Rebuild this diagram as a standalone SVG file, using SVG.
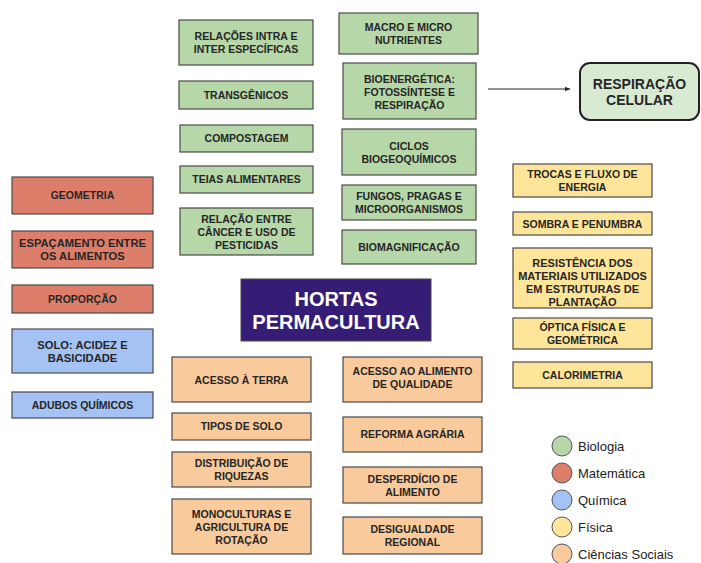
<svg xmlns="http://www.w3.org/2000/svg" width="701" height="563" viewBox="0 0 701 563">
<defs>
<style>
.b{stroke:#4a4a4a;stroke-width:1.2}
.g{fill:#b6d7a8}.r{fill:#dd7e6b}.q{fill:#a4c2f4}.y{fill:#ffe599}.o{fill:#f9cb9c}
.t{font-family:"Liberation Sans",Arial,sans-serif;font-weight:bold;font-size:10.5px;fill:#262626;text-anchor:middle}
.lg{font-family:"Liberation Sans",Arial,sans-serif;font-size:13px;fill:#222}
</style>
<marker id="ah" markerWidth="6" markerHeight="6" refX="5" refY="3" orient="auto" markerUnits="userSpaceOnUse">
<path d="M0,0.8 L5,3 L0,5.2 z" fill="#222"/>
</marker>
</defs>
<rect width="701" height="563" fill="#ffffff"/>

<g id="connectors">
<line x1="488" y1="89" x2="570" y2="89" stroke="#222" stroke-width="1" marker-end="url(#ah)"/>
</g>

<g id="n-relacoes"><rect class="b g" x="179" y="20" width="134" height="45"/><text class="t"><tspan x="246" y="39.8">RELAÇÕES INTRA E</tspan><tspan x="246" y="52.8">INTER ESPECÍFICAS</tspan></text></g>
<g id="n-transgenicos"><rect class="b g" x="179" y="81" width="134" height="28"/><text class="t" x="246" y="98.8">TRANSGÊNICOS</text></g>
<g id="n-compostagem"><rect class="b g" x="180" y="125" width="133" height="27"/><text class="t" x="246.5" y="142">COMPOSTAGEM</text></g>
<g id="n-teias"><rect class="b g" x="180" y="166" width="133" height="27"/><text class="t" x="246.5" y="183.3">TEIAS ALIMENTARES</text></g>
<g id="n-cancer"><rect class="b g" x="180" y="208" width="133" height="47"/><text class="t"><tspan x="246.5" y="223.3">RELAÇÃO ENTRE</tspan><tspan x="246.5" y="236.3">CÂNCER E USO DE</tspan><tspan x="246.5" y="249.3">PESTICIDAS</tspan></text></g>
<g id="n-macro"><rect class="b g" x="339" y="13" width="139" height="41"/><text class="t"><tspan x="408.5" y="30.8">MACRO E MICRO</tspan><tspan x="408.5" y="43.8">NUTRIENTES</tspan></text></g>
<g id="n-bioenergetica"><rect class="b g" x="343" y="63" width="133" height="56"/><text class="t"><tspan x="409.5" y="83.3">BIOENERGÉTICA:</tspan><tspan x="409.5" y="96.3">FOTOSSÍNTESE E</tspan><tspan x="409.5" y="109.3">RESPIRAÇÃO</tspan></text></g>
<g id="n-ciclos"><rect class="b g" x="342" y="129" width="134" height="46"/><text class="t"><tspan x="409" y="149.5">CICLOS</tspan><tspan x="409" y="162.5">BIOGEOQUÍMICOS</tspan></text></g>
<g id="n-fungos"><rect class="b g" x="342" y="185" width="134" height="35"/><text class="t"><tspan x="409" y="200.3">FUNGOS, PRAGAS E</tspan><tspan x="409" y="213.3">MICROORGANISMOS</tspan></text></g>
<g id="n-biomagnificacao"><rect class="b g" x="342" y="230" width="134" height="34"/><text class="t" x="409" y="250.8">BIOMAGNIFICAÇÃO</text></g>

<g id="n-respiracao"><rect x="580" y="63" width="119" height="57" rx="10" ry="10" fill="#d9ead3" stroke="#222" stroke-width="2"/><text class="t" style="font-size:14px"><tspan x="639.5" y="89">RESPIRAÇÃO</tspan><tspan x="639.5" y="105">CELULAR</tspan></text></g>

<g id="n-geometria"><rect class="b r" x="12" y="177" width="141" height="37"/><text class="t" x="82.5" y="199.3">GEOMETRIA</text></g>
<g id="n-espacamento"><rect class="b r" x="12" y="231" width="141" height="37"/><text class="t" style="font-size:11.2px"><tspan x="82.5" y="247">ESPAÇAMENTO ENTRE</tspan><tspan x="82.5" y="260">OS ALIMENTOS</tspan></text></g>
<g id="n-proporcao"><rect class="b r" x="12" y="285" width="141" height="28"/><text class="t" x="82.5" y="302.8">PROPORÇÃO</text></g>
<g id="n-solo"><rect class="b q" x="12" y="329" width="141" height="44"/><text class="t" style="font-size:11.2px"><tspan x="82.5" y="348.5">SOLO: ACIDEZ E</tspan><tspan x="82.5" y="361.5">BASICIDADE</tspan></text></g>
<g id="n-adubos"><rect class="b q" x="12" y="392" width="141" height="26"/><text class="t" x="82.5" y="408.8">ADUBOS QUÍMICOS</text></g>

<g id="n-trocas"><rect class="b y" x="513" y="164" width="139" height="33"/><text class="t"><tspan x="582.5" y="177.8">TROCAS E FLUXO DE</tspan><tspan x="582.5" y="190.8">ENERGIA</tspan></text></g>
<g id="n-sombra"><rect class="b y" x="513" y="212" width="139" height="23"/><text class="t" x="582.5" y="227.5">SOMBRA E PENUMBRA</text></g>
<g id="n-resistencia"><rect class="b y" x="513" y="248" width="139" height="60"/><text class="t" style="font-size:11px"><tspan x="582.5" y="266.5">RESISTÊNCIA DOS</tspan><tspan x="582.5" y="279.5">MATERIAIS UTILIZADOS</tspan><tspan x="582.5" y="292.5">EM ESTRUTURAS DE</tspan><tspan x="582.5" y="305.5">PLANTAÇÃO</tspan></text></g>
<g id="n-optica"><rect class="b y" x="513" y="318" width="139" height="31"/><text class="t"><tspan x="582.5" y="330.8">ÓPTICA FÍSICA E</tspan><tspan x="582.5" y="343.8">GEOMÉTRICA</tspan></text></g>
<g id="n-calorimetria"><rect class="b y" x="513" y="362" width="139" height="26"/><text class="t" x="582.5" y="378.8">CALORIMETRIA</text></g>

<g id="n-hortas"><rect x="241" y="279" width="190" height="62" fill="#351c75" stroke="#4a4a4a" stroke-width="1"/><text class="t" style="font-size:20px;fill:#ffffff"><tspan x="336" y="306">HORTAS</tspan><tspan x="336" y="329">PERMACULTURA</tspan></text></g>

<g id="n-terra"><rect class="b o" x="172" y="357" width="139" height="45"/><text class="t" x="241.5" y="383.8">ACESSO À TERRA</text></g>
<g id="n-alimento"><rect class="b o" x="343" y="357" width="139" height="45"/><text class="t"><tspan x="412.5" y="374.8">ACESSO AO ALIMENTO</tspan><tspan x="412.5" y="387.8">DE QUALIDADE</tspan></text></g>
<g id="n-tipos"><rect class="b o" x="172" y="413" width="139" height="27"/><text class="t" x="241.5" y="430.3">TIPOS DE SOLO</text></g>
<g id="n-distribuicao"><rect class="b o" x="172" y="452" width="139" height="35"/><text class="t"><tspan x="241.5" y="466.8">DISTRIBUIÇÃO DE</tspan><tspan x="241.5" y="479.8">RIQUEZAS</tspan></text></g>
<g id="n-monoculturas"><rect class="b o" x="172" y="499" width="139" height="55"/><text class="t"><tspan x="241.5" y="517.8">MONOCULTURAS E</tspan><tspan x="241.5" y="530.8">AGRICULTURA DE</tspan><tspan x="241.5" y="543.8">ROTAÇÃO</tspan></text></g>
<g id="n-reforma"><rect class="b o" x="343" y="417" width="139" height="35"/><text class="t" x="412.5" y="438.3">REFORMA AGRÁRIA</text></g>
<g id="n-desperdicio"><rect class="b o" x="343" y="467" width="139" height="36"/><text class="t"><tspan x="412.5" y="482.8">DESPERDÍCIO DE</tspan><tspan x="412.5" y="495.8">ALIMENTO</tspan></text></g>
<g id="n-desigualdade"><rect class="b o" x="343" y="517" width="139" height="37"/><text class="t"><tspan x="412.5" y="532.8">DESIGUALDADE</tspan><tspan x="412.5" y="545.8">REGIONAL</tspan></text></g>

<g id="legend">
<circle class="g" cx="562" cy="446" r="10" stroke="#555" stroke-width="1"/><text class="lg" x="578" y="450.5">Biologia</text>
<circle class="r" cx="562" cy="473" r="10" stroke="#555" stroke-width="1"/><text class="lg" x="578" y="477.5">Matemática</text>
<circle class="q" cx="562" cy="500" r="10" stroke="#555" stroke-width="1"/><text class="lg" x="578" y="504.5">Química</text>
<circle class="y" cx="562" cy="527" r="10" stroke="#555" stroke-width="1"/><text class="lg" x="578" y="531.5">Física</text>
<circle class="o" cx="562" cy="554" r="10" stroke="#555" stroke-width="1"/><text class="lg" x="578" y="558.5">Ciências Sociais</text>
</g>
</svg>
